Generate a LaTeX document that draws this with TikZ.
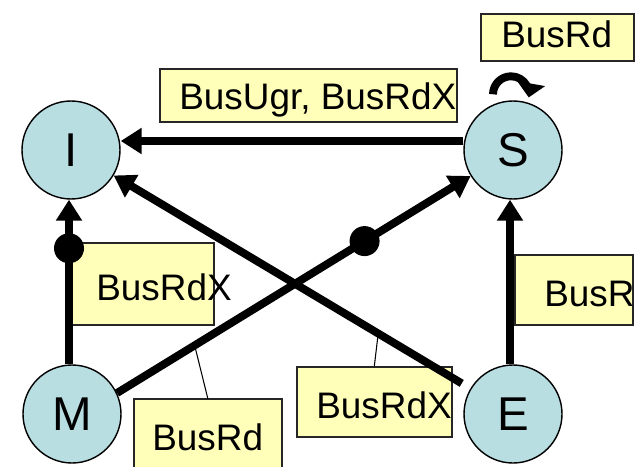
\documentclass[tikz,border=0pt]{standalone}
\usepackage{fontspec}
\setmainfont{Liberation Sans}
\usetikzlibrary{arrows.meta,calc}
\definecolor{stfill}{RGB}{185,222,226}
\definecolor{lblfill}{RGB}{255,255,185}
\tikzset{
  stnode/.style={circle,draw=black,line width=0.8pt,fill=stfill,minimum size=1.96cm,inner sep=0pt,font=\fontsize{27}{30}\selectfont},
  lblbox/.style={draw=black!85,line width=0.9pt,fill=lblfill,inner sep=0pt,anchor=south west},
  lbltxt/.style={inner sep=0pt,anchor=base west,font=\fontsize{21}{25}\selectfont},
  trans/.style={line width=4.5pt,-{Triangle[length=0.42cm,width=0.5cm]}},
  busdot/.style={circle,fill=black,minimum size=0.6cm,inner sep=0pt},
  pinline/.style={line width=0.6pt}
}
\begin{document}
\begin{tikzpicture}
  \clip (0,0) rectangle (12.74,9.32);

  % label boxes and their texts
  \node[lblbox,minimum width=5.94cm,minimum height=1.06cm] (l1) at (3.18,6.86) {};
  \node[lblbox,minimum width=3.06cm,minimum height=0.94cm] (l2) at (9.6,8.08) {};
  \node[lblbox,minimum width=2.92cm,minimum height=1.64cm] (l3) at (1.34,2.8) {};
  \node[lblbox,minimum width=2.96cm,minimum height=1.42cm] (l4) at (2.66,-0.1) {};
  \node[lblbox,minimum width=3.1cm,minimum height=1.4cm] (l5) at (5.92,0.56) {};
  \node[lblbox,minimum width=2.36cm,minimum height=1.4cm] (l6) at (10.28,2.8) {};
  \node[lbltxt] (t1) at (3.58,7.12) {BusUgr, BusRdX};
  \node[lbltxt] (t2) at (10.02,8.36) {BusRd};
  \node[lbltxt] (t3) at (1.92,3.32) {BusRdX};
  \node[lbltxt] (t4) at (3.04,0.32) {BusRd};
  \node[lbltxt] (t5) at (6.32,0.96) {BusRdX};
  \node[lbltxt] (t6) at (10.88,3.2) {BusR};

  % states
  \node[stnode] (I) at (1.42,6.32) {I};
  \node[stnode] (S) at (10.26,6.32) {S};
  \node[stnode] (M) at (1.44,1.04) {M};
  \node[stnode] (E) at (10.26,1.04) {E};

  % pins from edges to labels
  \coordinate (p4) at ($(M.25)!0.196!(S)$);
  \coordinate (p5) at ($(I)!0.695!(E)$);
  \draw[pinline] (p4) -- (l4.north);
  \draw[pinline] (p5) -- (l5.north);

  % transitions
  \draw[trans] ([yshift=0.18cm]S.west) -- ([yshift=0.18cm]I.east);
  \draw[trans,shorten <=0.2cm] (E) -- (I);
  \draw[trans] (M.25) -- (S) node[busdot,pos=0.7] (d2) {};
  \draw[trans] ([xshift=-0.06cm]M.north) -- ([xshift=-0.06cm]M.north |- I.south) node[busdot,pos=0.705] (d1) {};
  \draw[trans] ([xshift=-0.06cm]E.north) -- ([xshift=-0.06cm]E.north |- S.south);
  \draw[line width=4.5pt,-{Triangle[length=0.28cm,width=0.55cm]}] ([shift={(-0.4cm,0.12cm)}]S.north) arc[start angle=180,end angle=-10,radius=0.36cm];
\end{tikzpicture}
\end{document}
